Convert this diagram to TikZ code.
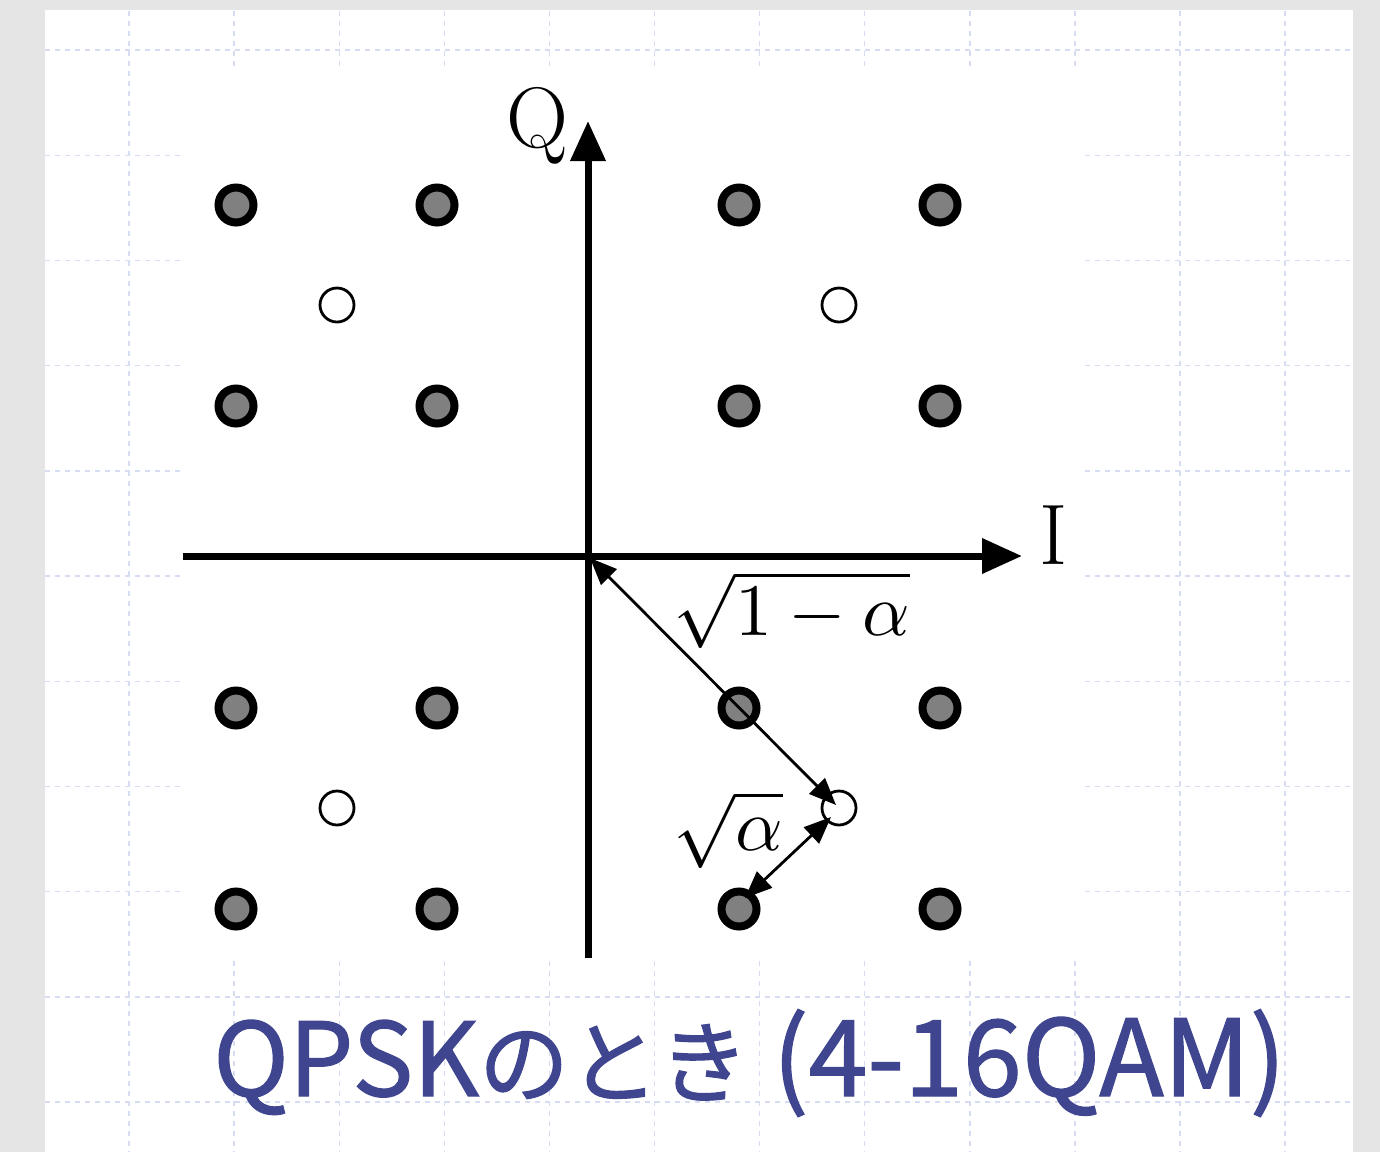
\documentclass[tikz,border=0pt]{standalone}
\usepackage{fontspec}
\newfontfamily\cjk[FakeBold=1.2]{Noto Sans CJK JP}
\usetikzlibrary{arrows.meta}
\definecolor{bgGray}{HTML}{E5E5E5}
\definecolor{gridC}{HTML}{D6DDF3}
\definecolor{capBlue}{HTML}{3F468F}
\definecolor{dotGray}{HTML}{808080}
\tikzset{
  gridline/.style={gridC, line width=1.4pt, dash pattern=on 5pt off 5pt},
  filleddot/.style={circle, draw=black, line width=8pt, fill=dotGray, minimum size=35pt, inner sep=0pt},
  hollowdot/.style={circle, draw=black, line width=2.8pt, fill=white, minimum size=34pt, inner sep=0pt},
  axisline/.style={line width=7pt, -{Triangle[length=40pt,width=34pt]}},
  dimarrow/.style={line width=2.8pt, {Triangle[length=27pt,width=22pt]}-{Triangle[length=27pt,width=22pt]}},
  axlabel/.style={inner sep=0pt, font=\fontsize{86}{90}\selectfont},
}
\begin{document}
\begin{tikzpicture}[x=1pt,y=-1pt]
\useasboundingbox (0,0) rectangle (1380,1152);
\fill[bgGray] (0,0) rectangle (1380,1152);
\fill[white] (45,10) rectangle (1353,1152);
% grid
\foreach \k in {0,...,11} {
  \draw[gridline] ({129+105.1*\k},11) -- ({129+105.1*\k},1152);
}
\foreach \k in {0,...,10} {
  \draw[gridline] (45,{50+105.2*\k}) -- (1353,{50+105.2*\k});
}
% diagram area
\fill[white] (183,68) rectangle (1082,958);
% axes
\coordinate (O) at (588,556);
\coordinate (xl) at (183,556);
\coordinate (xr) at (1022,556);
\coordinate (yb) at (588,958);
\coordinate (yt) at (588,121);
\draw[axisline] (xl) -- (xr);
\draw[axisline] (yb) -- (yt);
\node[axlabel, anchor=center] (Qlab) at (537,126) {Q};
\node[axlabel, anchor=center] (Ilab) at (1054,535) {I};
% filled constellation points
\foreach \i/\x in {1/236,2/437,3/739,4/940} {
  \foreach \j/\y in {1/205,2/406,3/708,4/909} {
    \node[filleddot] (d\i\j) at (\x,\y) {};
  }
}
% hollow points
\node[hollowdot] (h1) at (337,305) {};
\node[hollowdot] (h2) at (839,305) {};
\node[hollowdot] (h3) at (337,808) {};
\node[hollowdot] (h4) at (839,808) {};
% dimension arrows
\coordinate (a1s) at (590,558);
\coordinate (a1e) at (836,805);
\coordinate (a2s) at (831,817);
\coordinate (a2e) at (745,898);
\draw[dimarrow] (a1s) -- (a1e);
\draw[dimarrow] (a2s) -- (a2e);
\node[inner sep=0pt] (l1) at (792,610) {\scalebox{7.4}{$\sqrt{1-\alpha}$}};
\node[inner sep=0pt] (l2) at (728,830) {\scalebox{7.4}{$\sqrt{\alpha}$}};
% caption
\node[anchor=base west, inner sep=0pt, text=capBlue] (cap) at (213,1096) {\cjk\fontsize{102}{120}\selectfont QPSK\fontsize{90}{120}\selectfont のとき\fontsize{106}{120}\selectfont\ (4-16QAM)};
\end{tikzpicture}
\end{document}
